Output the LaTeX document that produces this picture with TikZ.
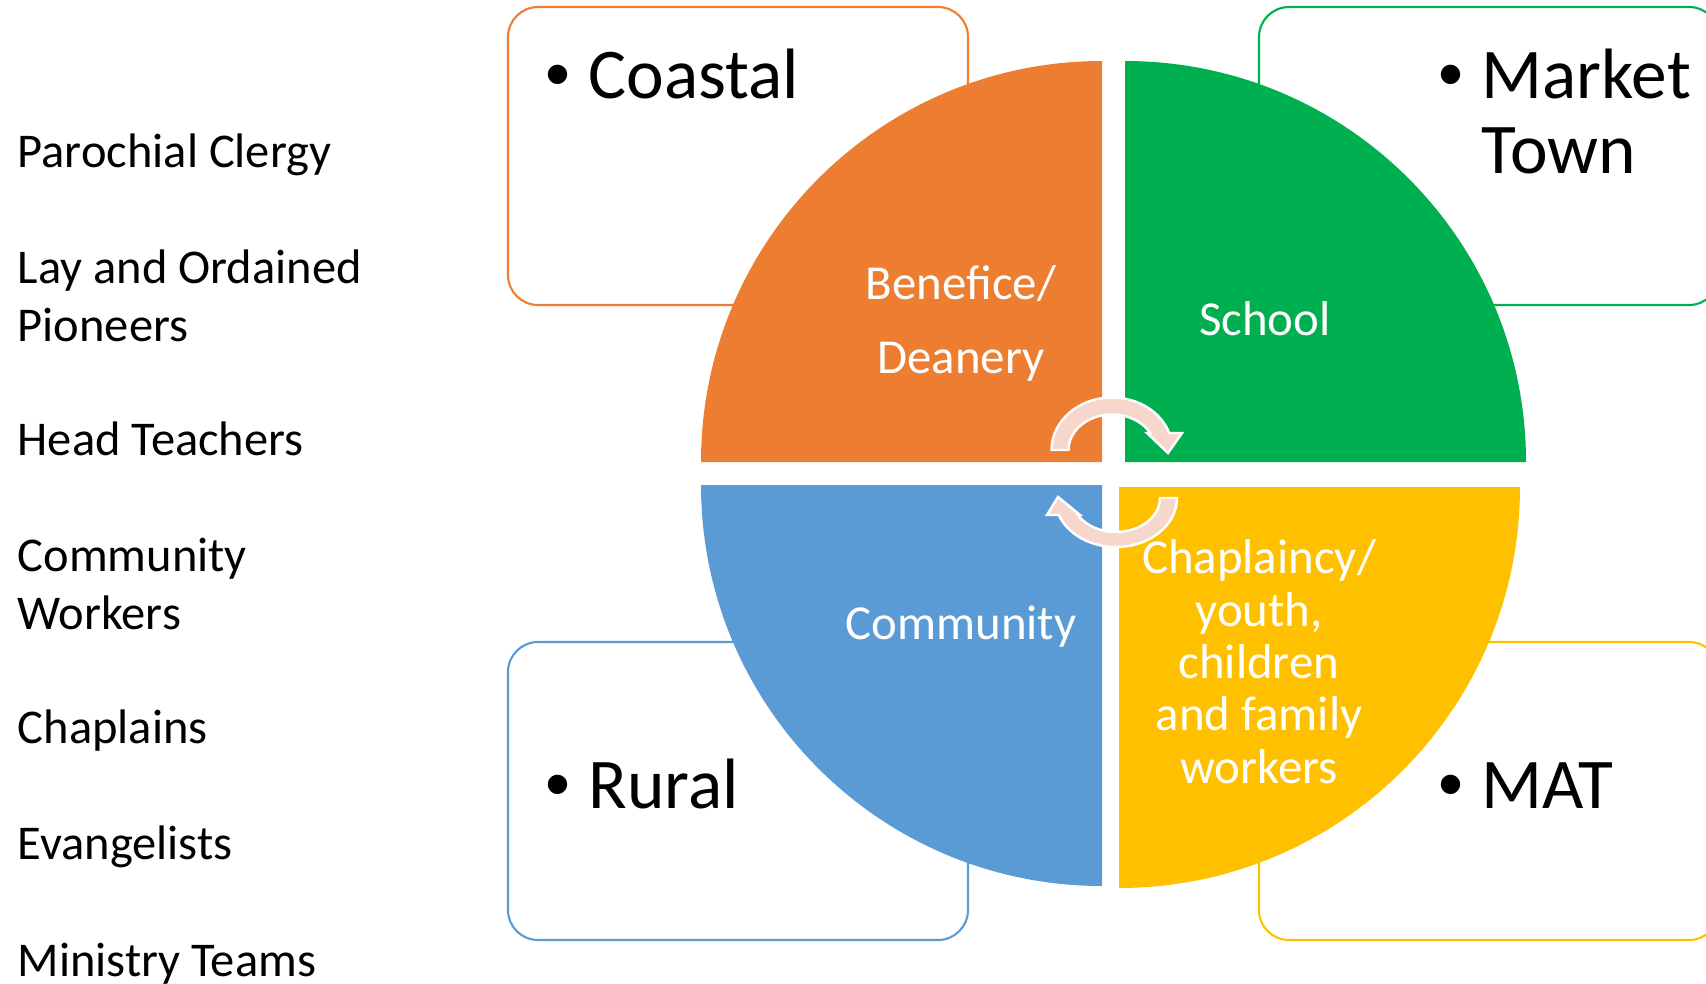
\documentclass[tikz,border=0pt]{standalone}
\usepackage{fontspec}
\setmainfont{Carlito}
\newfontfamily\bulletfont{Liberation Sans}

\definecolor{segorange}{HTML}{ED7D31}
\definecolor{seggreen}{HTML}{00B050}
\definecolor{segblue}{HTML}{5B9BD5}
\definecolor{segyellow}{HTML}{FFC000}
\definecolor{turnpink}{HTML}{F7D6CC}

\newcommand{\bul}{\llap{\bulletfont\textbullet\hspace{0.18cm}}}

\tikzset{
  role/.style     = {anchor=base west, inner sep=0pt, align=left,
                     font=\fontsize{13.8}{16.5}\selectfont},
  place/.style    = {anchor=base west, inner sep=0pt, align=left,
                     font=\fontsize{20.3}{21.3}\selectfont},
  seglabel/.style = {anchor=base, inner sep=0pt, align=center, text=white,
                     font=\fontsize{13.9}{16.5}\selectfont},
  frame/.style    = {draw=#1, line width=0.6pt, rounded corners=0.3cm},
  turnarrow/.style = {fill=turnpink, draw=white, line width=0.7pt},
}

\begin{document}
\begin{tikzpicture}
  \useasboundingbox (0,0) rectangle (17.06,9.83);
  \clip (0,0) rectangle (17.06,9.83);

  % roles down the left side (base = last line)
  \node[role] (parochial)   at (0.17,8.16) {Parochial Clergy};
  \node[role] (pioneers)    at (0.17,6.42) {Lay and Ordained\\Pioneers};
  \node[role] (heads)       at (0.17,5.28) {Head Teachers};
  \node[role] (workers)     at (0.17,3.54) {Community\\Workers};
  \node[role] (chaplains)   at (0.17,2.40) {Chaplains};
  \node[role] (evangelists) at (0.17,1.24) {Evangelists};
  \node[role] (teams)       at (0.17,0.07) {Ministry Teams};

  % context frames
  \draw[frame=segorange] (5.08,6.78)  rectangle (9.68,9.76);
  \draw[frame=seggreen]  (12.59,6.78) rectangle (17.19,9.76);
  \draw[frame=segblue]   (5.08,0.43)  rectangle (9.68,3.41);
  \draw[frame=segyellow] (12.59,0.43) rectangle (17.19,3.41);

  % quarter discs
  \fill[segorange] (11.02,5.21) -- (7.01,5.21)  arc[start angle=180, end angle=90,  radius=4.01] -- cycle;
  \fill[seggreen]  (11.25,5.21) -- (11.25,9.22) arc[start angle=90,  end angle=0,   radius=4.01] -- cycle;
  \fill[segblue]   (11.02,4.98) -- (11.02,0.97) arc[start angle=270, end angle=180, radius=4.01] -- cycle;
  \fill[segyellow] (11.19,4.96) -- (15.20,4.96) arc[start angle=0,   end angle=-90, radius=4.01] -- cycle;

  % circular arrows in the middle
  \draw[turnarrow] (10.515,5.33)
    arc[start angle=180, end angle=18.9, x radius=0.605, y radius=0.525]
    -- (11.82,5.50) -- (11.68,5.30) -- (11.47,5.50) -- (11.502,5.50)
    arc[start angle=28.6, end angle=180, x radius=0.435, y radius=0.355] -- cycle;
  \draw[turnarrow] (11.77,4.85)
    arc[start angle=0, end angle=-159.7, x radius=0.61, y radius=0.49]
    -- (10.47,4.68) -- (10.58,4.86) -- (10.80,4.68) -- (10.779,4.68)
    arc[start angle=-150, end angle=0, x radius=0.44, y radius=0.34] -- cycle;

  \node[place] (coastal) at (5.88,8.85)  {\bul Coastal};
  \node[place] (market)  at (14.81,8.10) {\bul Market\\Town};
  \node[place] (rural)   at (5.88,1.75)  {\bul Rural};
  \node[place] (mat)     at (14.81,1.75) {\bul MAT};

  \node[seglabel, font=\fontsize{13.9}{21.0}\selectfont] (benefice) at (9.61,6.10) {Benefice/\\Deanery};
  \node[seglabel] (school)    at (12.65,6.48) {School};
  \node[seglabel] (community) at (9.61,3.44)  {Community};
  \node[seglabel, font=\fontsize{13.9}{14.87}\selectfont] (chaplaincy) at (12.59,2.00)
    {Chaplaincy/\\youth,\\children\\and family\\workers};
\end{tikzpicture}
\end{document}
